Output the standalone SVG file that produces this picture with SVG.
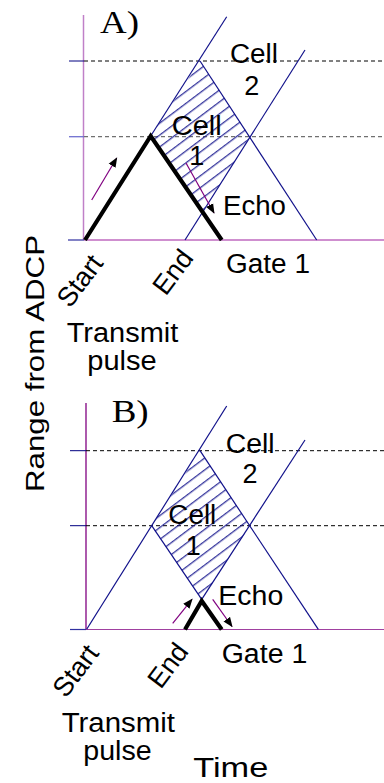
<svg xmlns="http://www.w3.org/2000/svg" width="384" height="783" viewBox="0 0 384 783">
<style>
.t{font-family:"Liberation Sans",Arial,sans-serif;font-size:27px;fill:#000}
.s{font-family:"Liberation Serif","Times New Roman",serif;font-size:32px;fill:#000}
.blue{stroke:#10108a;stroke-width:1.2;fill:none}
.pur{stroke:#800080;stroke-width:1.2;fill:none}
.thick{stroke:#000;stroke-width:4.2;fill:none;stroke-linejoin:miter}
.dash{stroke-dasharray:4 3;stroke-width:1;fill:none}
</style>
<defs>
<pattern id="hatch" patternUnits="userSpaceOnUse" width="9.5" height="9.5" patternTransform="rotate(-37)">
<line x1="-1" y1="4.5" x2="11" y2="4.5" stroke="#10108a" stroke-width="1.1"/>
</pattern>
<marker id="ah" markerUnits="userSpaceOnUse" markerWidth="10" markerHeight="10" refX="9" refY="5" orient="auto">
<path d="M0,1 L10,5 L0,9 Z" fill="#000"/>
</marker>
</defs>
<rect width="384" height="783" fill="#fff"/>

<g id="panelA">
<g id="axesA">
<line x1="83.5" y1="15" x2="83.5" y2="240" stroke="#c080c8" stroke-width="1.5"/>
<line x1="68" y1="240" x2="84" y2="240" stroke="#3030a0" stroke-width="1.2"/>
<line x1="84" y1="240" x2="384" y2="240" stroke="#a020a0" stroke-width="1.2"/>
<line x1="69" y1="61" x2="84" y2="61" stroke="#000080" stroke-width="1"/>
<line x1="84" y1="61" x2="384" y2="61" stroke="#000" class="dash"/>
<line x1="69" y1="136.7" x2="84" y2="136.7" stroke="#7070d0" stroke-width="1.3"/>
<line x1="84" y1="136.7" x2="384" y2="136.7" stroke="#707070" class="dash" style="stroke-width:1.3"/>
</g>
<g id="cellsA">
<polygon points="200,61 250,136.7 202.6,212 150.7,136" fill="url(#hatch)"/>
<line class="blue" x1="150.7" y1="136" x2="226.7" y2="16.7"/>
<line class="blue" x1="200" y1="61" x2="316.7" y2="240"/>
<line class="blue" x1="185" y1="240" x2="305" y2="50"/>
</g>
<g id="pulseA">
<polyline class="thick" points="85,240 150.7,136 221.7,240"/>
</g>
<g id="arrowsA">
<line class="pur" x1="91.7" y1="200" x2="116.7" y2="158" marker-end="url(#ah)"/>
<line class="pur" x1="186" y1="163" x2="214" y2="213" marker-end="url(#ah)"/>
</g>
<g id="labelsA">
<text class="s" x="100" y="33" textLength="39" lengthAdjust="spacingAndGlyphs">A)</text>
<text class="t" x="230" y="63" textLength="48" lengthAdjust="spacingAndGlyphs">Cell</text>
<text class="t" x="251.7" y="95" text-anchor="middle">2</text>
<text class="t" x="171.7" y="135" textLength="50" lengthAdjust="spacingAndGlyphs">Cell</text>
<text class="t" x="196.7" y="165" text-anchor="middle">1</text>
<text class="t" x="223" y="215" textLength="63" lengthAdjust="spacingAndGlyphs">Echo</text>
<text class="t" x="226" y="273" textLength="84" lengthAdjust="spacingAndGlyphs">Gate 1</text>
<text class="t" transform="translate(70,309) rotate(-53)">Start</text>
<text class="t" transform="translate(165.7,296.7) rotate(-53)">End</text>
<text class="t" x="66.7" y="341.7" textLength="111.6" lengthAdjust="spacingAndGlyphs">Transmit</text>
<text class="t" x="87.3" y="370" textLength="69.4" lengthAdjust="spacingAndGlyphs">pulse</text>
</g>
</g>

<g id="yLabel">
<text class="t" style="font-size:25px" transform="translate(43.5,492) rotate(-90)" textLength="257" lengthAdjust="spacingAndGlyphs">Range from ADCP</text>
</g>

<g id="panelB">
<g id="axesB">
<line x1="86" y1="403" x2="86" y2="629.5" stroke="#800080" stroke-width="1.3"/>
<line x1="70" y1="629.5" x2="86" y2="629.5" stroke="#3030a0" stroke-width="1.2"/>
<line x1="86" y1="629.5" x2="384" y2="629.5" stroke="#a040a0" stroke-width="1.2"/>
<line x1="70" y1="450.7" x2="86" y2="450.7" stroke="#000080" stroke-width="1"/>
<line x1="86" y1="450.7" x2="384" y2="450.7" stroke="#000" class="dash"/>
<line x1="70" y1="525.7" x2="86" y2="525.7" stroke="#000080" stroke-width="1"/>
<line x1="86" y1="525.7" x2="384" y2="525.7" stroke="#000" class="dash"/>
</g>
<g id="cellsB">
<polygon points="200,450.7 250,525.7 201.7,599.3 151.7,525.7" fill="url(#hatch)"/>
<line class="blue" x1="86.7" y1="629.3" x2="226.7" y2="406"/>
<line class="blue" x1="200" y1="450.7" x2="318.3" y2="629.3"/>
<line class="blue" x1="201.7" y1="599.3" x2="305" y2="440"/>
<line class="blue" x1="151.7" y1="525.7" x2="201.7" y2="599.3"/>
</g>
<g id="pulseB">
<polyline class="thick" points="185,629.5 201.7,601 221.7,629.5"/>
</g>
<g id="arrowsB">
<line class="pur" x1="172.7" y1="623.3" x2="192" y2="599.3" marker-end="url(#ah)"/>
<line class="pur" x1="212.7" y1="599.3" x2="232" y2="626.5" marker-end="url(#ah)"/>
</g>
<g id="labelsB">
<text class="s" x="111.7" y="421.7" textLength="37" lengthAdjust="spacingAndGlyphs">B)</text>
<text class="t" x="225.7" y="452.7" textLength="49" lengthAdjust="spacingAndGlyphs">Cell</text>
<text class="t" x="250" y="483.3" text-anchor="middle">2</text>
<text class="t" x="168.3" y="524" textLength="48" lengthAdjust="spacingAndGlyphs">Cell</text>
<text class="t" x="193.3" y="555" text-anchor="middle">1</text>
<text class="t" x="218.3" y="605" textLength="65" lengthAdjust="spacingAndGlyphs">Echo</text>
<text class="t" x="221.7" y="663.3" textLength="85.6" lengthAdjust="spacingAndGlyphs">Gate 1</text>
<text class="t" transform="translate(65.7,699) rotate(-53)">Start</text>
<text class="t" transform="translate(160.7,690) rotate(-53)">End</text>
<text class="t" x="61.7" y="731.7" textLength="113.3" lengthAdjust="spacingAndGlyphs">Transmit</text>
<text class="t" x="83.3" y="760" textLength="68.4" lengthAdjust="spacingAndGlyphs">pulse</text>
</g>
</g>

<g id="xLabel">
<text class="t" style="font-size:28px" x="193.3" y="777" textLength="75" lengthAdjust="spacingAndGlyphs">Time</text>
</g>
</svg>
